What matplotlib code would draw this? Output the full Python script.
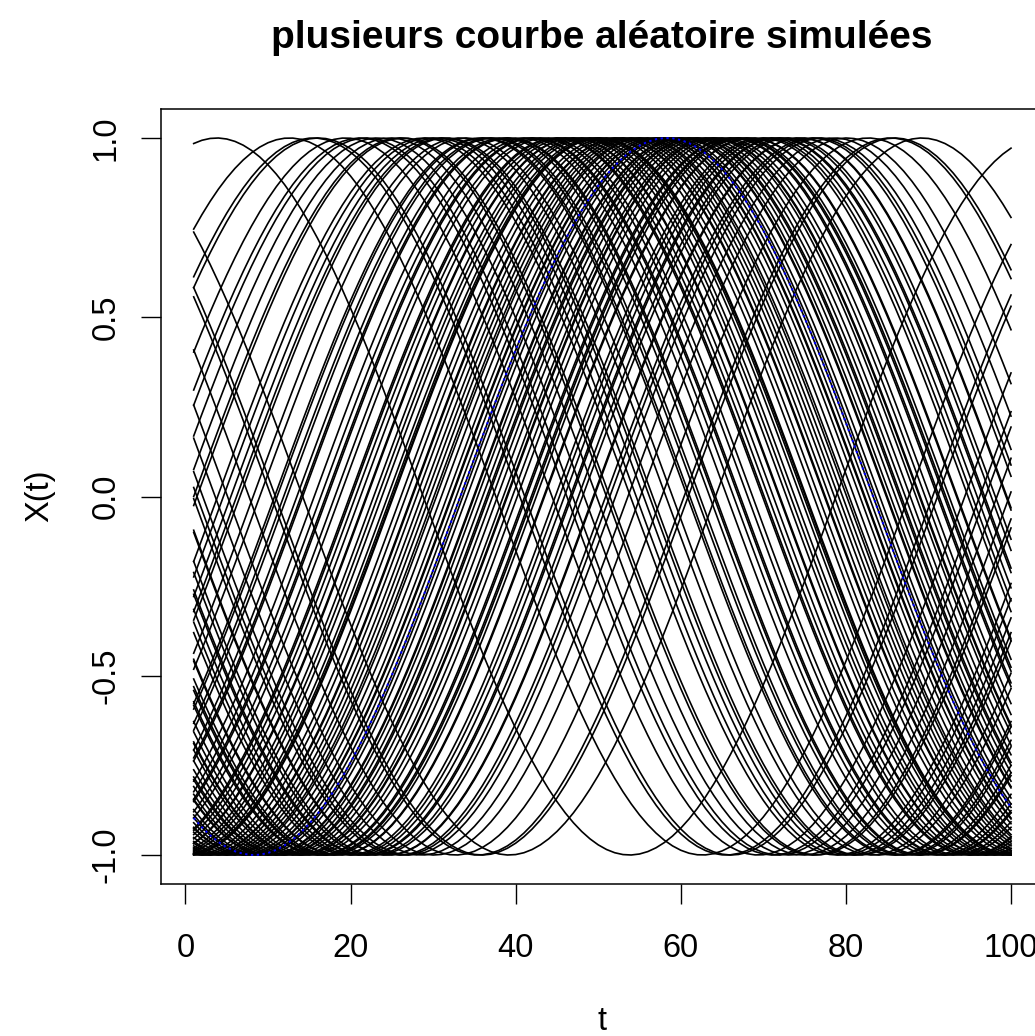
import numpy as np
import matplotlib
matplotlib.use("Agg")
import matplotlib.pyplot as plt

plt.rcParams['font.family'] = ['Liberation Sans', 'DejaVu Sans']

# Data: time grid and the peak position (phase) of each simulated cosine curve (period 100)
t = np.arange(1, 101)
period = 100.0
peaks = [3.8, 12.6, 15.5, 16.1, 19.4, 21.2, 21.9, 24.8, 26.0, 26.4,
         28.9, 30.5, 31.2, 31.6, 34.0, 35.8, 36.1, 36.9, 38.5, 39.0,
         39.2, 41.4, 42.0, 42.2, 43.7, 44.9, 45.1, 45.6, 46.9, 47.0,
         48.3, 48.8, 49.5, 50.1, 50.2, 51.7, 52.4, 52.5, 53.0, 54.6,
         55.1, 55.4, 56.0, 57.2, 57.3, 58.3, 58.6, 59.9, 60.0, 60.4,
         61.5, 61.7, 62.2, 63.5, 63.9, 64.0, 65.2, 66.1, 66.3, 67.5,
         68.4, 68.5, 69.8, 70.3, 71.6, 71.8, 73.1, 74.4, 74.5, 75.9,
         77.1, 78.6, 82.7, 85.4, 85.9, 89.2,
         37.3, 40.6, 43.1, 46.2, 47.8, 49.9, 51.1, 53.6, 54.1, 56.7,
         57.8, 59.1, 61.0, 62.8, 64.6, 66.9, 67.1, 70.9, 72.6, 23.3,
         29.6, 33.2, 76.4, 80.1]
blue_peak = 58.3

title = "plusieurs courbe aléatoire simulées"
xlabel = "t"
ylabel = "X(t)"
xticks = [0, 20, 40, 60, 80, 100]
yticks = [-1.0, -0.5, 0.0, 0.5, 1.0]
ytick_labels = ["-1.0", "-0.5", "0.0", "0.5", "1.0"]

W, H = 1035, 1036
fig = plt.figure(figsize=(W / 100, H / 100), dpi=100)
left, right, top, bottom = 161, 1043.7, 109.3, 883.7
ax = fig.add_axes([left / W, 1 - bottom / H, (right - left) / W, (bottom - top) / H])

for p in peaks:
    ax.plot(t, np.cos(2 * np.pi * (t - p) / period), color='black', lw=1.2,
            solid_joinstyle='round')
ax.plot(t, np.cos(2 * np.pi * (t - blue_peak) / period), color='#0000ff', lw=1.4,
        linestyle=(0, (1.2, 1.8)), zorder=5)

ax.set_xlim(1 - 0.04 * 99, 100 + 0.04 * 99)
ax.set_ylim(-1.08, 1.08)
ax.set_xticks(xticks)
ax.set_xticklabels([str(v) for v in xticks])
ax.set_yticks(yticks)
ax.set_yticklabels(ytick_labels, rotation=90, va='center')
ax.tick_params(axis='both', length=14.5, width=1.0, labelsize=23.5, color='black')
ax.tick_params(axis='x', pad=21)
ax.tick_params(axis='y', pad=14)
for s in ax.spines.values():
    s.set_linewidth(1.1)

fig.text(602 / W, 1 - 38 / H, title, ha='center', va='center', fontsize=28, fontweight='bold')
fig.text(602 / W, 1 - 1022 / H, xlabel, ha='center', va='center', fontsize=23.5)
fig.text(40 / W, 1 - 496 / H, ylabel, ha='center', va='center', fontsize=23.5, rotation=90)

fig.savefig("out.png", dpi=100)
